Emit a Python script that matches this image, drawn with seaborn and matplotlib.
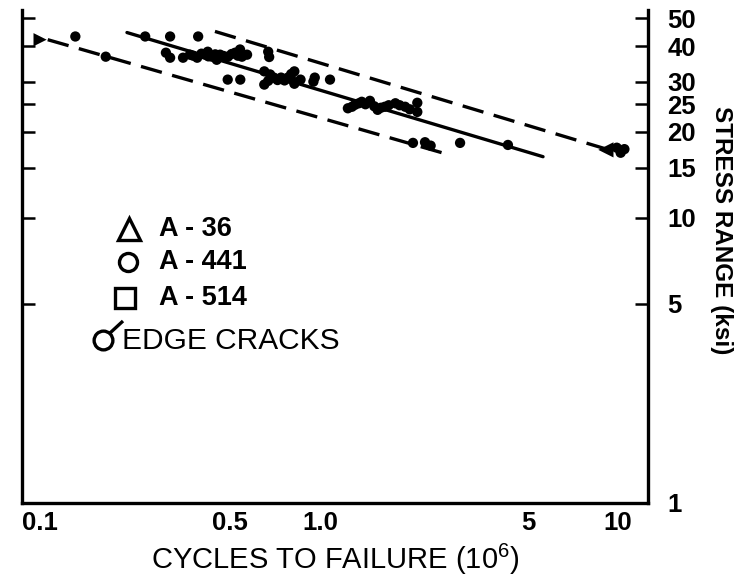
import matplotlib
matplotlib.use("Agg")
import matplotlib.pyplot as plt
import seaborn as sns
import pandas as pd
from matplotlib.ticker import FixedLocator, NullLocator, NullFormatter, FixedFormatter

# ---------------- data ----------------
pts_x = [0.151, 0.191, 0.259, 0.304, 0.314, 0.314, 0.347, 0.390,
         0.366, 0.387, 0.411, 0.434, 0.462, 0.491, 0.519, 0.539, 0.547, 0.569, 0.42, 0.45,
         0.375, 0.40, 0.422, 0.445, 0.475, 0.505, 0.53,
         0.67, 0.675, 0.49, 0.54,
         0.65, 0.65, 0.70, 0.74, 0.78, 0.82, 0.82, 0.86, 0.95, 0.96, 1.08,
         0.67, 0.72, 0.76, 0.80, 0.68, 0.80,
         1.24, 1.31, 1.38, 1.47, 1.56, 1.65, 1.79, 1.93, 2.00, 2.12, 2.12,
         1.28, 1.35, 1.42, 1.52, 1.60, 1.70, 1.85,
         2.05, 2.25, 2.35, 2.95, 4.27]
pts_y = [43.2, 36.7, 43.2, 37.9, 43.2, 36.4, 36.4, 43.2,
         37.3, 36.4, 37.3, 36.7, 37.3, 36.7, 37.9, 38.9, 36.7, 37.3, 38.2, 35.8,
         37.0, 37.6, 36.8, 37.4, 36.9, 37.5, 37.0,
         38.2, 36.6, 30.5, 30.5,
         32.6, 29.3, 31.0, 31.0, 31.0, 32.6, 29.5, 30.5, 30.0, 31.0, 30.5,
         30.2, 30.4, 30.3, 30.6, 31.8, 31.9,
         24.2, 24.9, 25.5, 25.7, 23.9, 24.5, 25.2, 24.5, 24.0, 25.3, 23.5,
         24.5, 25.2, 25.0, 24.6, 24.3, 24.8, 24.8,
         18.3, 18.4, 17.9, 18.3, 18.0]

runout_right_x = [9.1]
runout_right_y = [17.3]
runout_left_x = [0.115]
runout_left_y = [42.1]
runout_dots_x = [9.9, 10.5, 10.2]
runout_dots_y = [17.6, 17.4, 16.9]

mean_x = [0.225, 5.60]
mean_y = [44.6, 16.37]
upper_x = [0.444, 9.05]
upper_y = [45.0, 17.46]
lower_x = [0.122, 2.567]
lower_y = [42.1, 16.9]

x_ticks = [0.1, 0.5, 1.0, 5, 10]
x_ticklabels = ["0.1", "0.5", "1.0", "5", "10"]
x_minor = [0.2, 0.3, 0.4, 0.6, 0.7, 0.8, 0.9, 2, 3, 4, 6, 7, 8, 9]
y_ticks = [1, 5, 10, 15, 20, 25, 30, 40, 50]
y_ticklabels = ["1", "5", "10", "15", "20", "25", "30", "40", "50"]

legend_labels = ["A - 36", "A - 441", "A - 514", "EDGE CRACKS"]

# ---------------- style ----------------
sns.set_theme(style="white")
plt.rcParams["font.family"] = ["Liberation Sans", "DejaVu Sans"]
plt.rcParams["mathtext.fontset"] = "custom"
plt.rcParams["mathtext.rm"] = "Liberation Sans"
plt.rcParams["mathtext.it"] = "Liberation Sans:italic"
plt.rcParams["mathtext.bf"] = "Liberation Sans:bold"

fig = plt.figure(figsize=(7.36, 5.81), dpi=100)
ax = fig.add_axes([22 / 736, 1 - 503 / 581, 626 / 736, 493 / 581])
ax.set_xscale("log")
ax.set_yscale("log")

pts = pd.DataFrame({"cycles": pts_x, "stress": pts_y})
sns.scatterplot(data=pts, x="cycles", y="stress", color="black", s=55,
                edgecolor="none", ax=ax, zorder=3)
sns.scatterplot(x=runout_dots_x, y=runout_dots_y, color="black", s=55,
                edgecolor="none", ax=ax, zorder=3)
sns.scatterplot(x=runout_right_x, y=runout_right_y, color="black", s=120,
                marker="<", edgecolor="none", ax=ax, zorder=3)
sns.scatterplot(x=runout_left_x, y=runout_left_y, color="black", s=90,
                marker=">", edgecolor="none", ax=ax, zorder=3)

sns.lineplot(x=mean_x, y=mean_y, color="black", lw=2.4, ax=ax)
sns.lineplot(x=upper_x, y=upper_y, color="black", lw=2.4, ax=ax,
             linestyle=(0, (6.5, 3.2)))
sns.lineplot(x=lower_x, y=lower_y, color="black", lw=2.4, ax=ax,
             linestyle=(0, (6.5, 3.2)))

ax.set_xlim(0.1, 12.6)
ax.set_ylim(1, 53.5)

# spines
for side in ["left", "right", "bottom"]:
    ax.spines[side].set_visible(True)
    ax.spines[side].set_color("black")
    ax.spines[side].set_linewidth(2.4)
ax.spines["top"].set_visible(False)

# x ticks
ax.xaxis.set_major_locator(FixedLocator(x_ticks))
ax.xaxis.set_major_formatter(FixedFormatter(x_ticklabels))
ax.xaxis.set_minor_locator(FixedLocator(x_minor))
ax.xaxis.set_minor_formatter(NullFormatter())
ax.tick_params(axis="x", which="major", direction="in", length=9, width=1.8,
               pad=6, labelsize=18.5, colors="black", top=False)
ax.tick_params(axis="x", which="minor", direction="in", length=4.5, width=1.8,
               colors="black", top=False)

# y ticks
ax.yaxis.set_major_locator(FixedLocator(y_ticks))
ax.yaxis.set_major_formatter(FixedFormatter(y_ticklabels))
ax.yaxis.set_minor_locator(NullLocator())
ax.tick_params(axis="y", which="major", direction="in", length=9.5, width=1.8,
               left=True, right=True, labelleft=False, labelright=True,
               pad=14, labelsize=18.5, colors="black")
for lab in ax.get_yticklabels():
    lab.set_fontweight("bold")
for lab in ax.get_xticklabels():
    lab.set_fontweight("bold")
ax.get_xticklabels()[0].set_ha("left")

ax.set_xlabel("CYCLES TO FAILURE (10$^{6}$)", fontsize=21,
              color="black", labelpad=5)
ax.yaxis.set_label_position("right")
ax.set_ylabel("STRESS RANGE (ksi)", fontsize=17.5, fontweight="bold",
              rotation=270, va="center", ha="center", color="black")
ax.yaxis.set_label_coords(1.118, 0.554)

# legend (manual key)
def fx(px):
    return (px - 22) / 626

def fy(py):
    return (503 - py) / 493

ax.plot([fx(129)], [fy(229)], marker="^", ms=16.5, mfc="none", mec="black",
        mew=2.4, transform=ax.transAxes, clip_on=False)
ax.plot([fx(128)], [fy(262)], marker="o", ms=13, mfc="none", mec="black",
        mew=2.4, transform=ax.transAxes, clip_on=False)
ax.plot([fx(125)], [fy(298)], marker="s", ms=14.5, mfc="none", mec="black",
        mew=2.4, transform=ax.transAxes, clip_on=False)
ax.plot([fx(103)], [fy(340)], marker="o", ms=13.5, mfc="none", mec="black",
        mew=2.4, transform=ax.transAxes, clip_on=False)
ax.plot([fx(110), fx(123)], [fy(333), fy(321)], color="black", lw=2.4,
        transform=ax.transAxes, clip_on=False, solid_capstyle="butt")

for lab, py in zip(legend_labels[:3], [229, 262, 298]):
    ax.text(fx(159), fy(py), lab, transform=ax.transAxes,
            fontsize=19.5, fontweight="bold", va="center", ha="left",
            color="black")
ax.text(fx(122), fy(341), legend_labels[3], transform=ax.transAxes,
        fontsize=21.5, va="center", ha="left", color="black")

fig.savefig("out.png", dpi=100, facecolor="white")
